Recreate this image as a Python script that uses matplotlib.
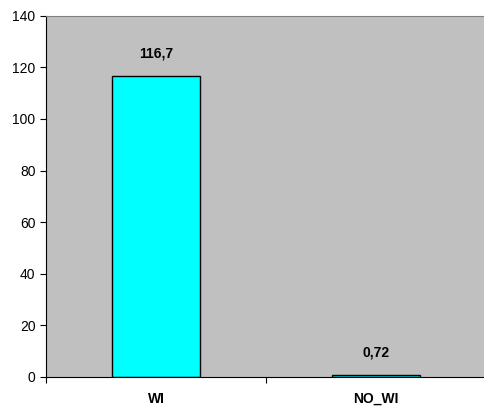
import matplotlib.pyplot as plt
from matplotlib.ticker import FixedLocator

plt.rcParams["font.family"] = ["Liberation Sans", "DejaVu Sans"]

categorias = ["WI", "NO_WI"]
valores = [116.7, 0.72]
rotulos = ["116,7", "0,72"]

fig = plt.figure(figsize=(4.84, 4.16), dpi=100)
ax = fig.add_axes([0.095, 0.094, 0.905, 0.868])
ax.set_facecolor("#c0c0c0")

x = range(len(categorias))
ax.bar(x, valores, width=0.4, color="#00ffff", edgecolor="black", linewidth=1)

for i, (v, r) in enumerate(zip(valores, rotulos)):
    ax.text(i, v + 6, r, ha="center", va="bottom", fontsize=10, fontweight="bold")

ax.set_xlim(-0.5, 1.49)
ax.set_ylim(0, 140)
ax.set_yticks(range(0, 141, 20))
ax.tick_params(axis="y", labelsize=10, length=4, direction="out")

# ticks entre as categorias, rotulos centralizados
ax.xaxis.set_major_locator(FixedLocator([-0.5, 0.5, 1.5]))
ax.set_xticklabels([])
ax.xaxis.set_minor_locator(FixedLocator([0, 1]))
ax.set_xticklabels(categorias, minor=True, fontweight="bold", fontsize=10)
ax.tick_params(axis="x", which="minor", length=0, pad=11)
ax.tick_params(axis="x", which="major", length=4, direction="out")

ax.spines["top"].set_color("#808080")
ax.spines["right"].set_visible(False)
ax.spines["left"].set_color("black")
ax.spines["bottom"].set_color("black")

fig.savefig("out.png", dpi=100)
